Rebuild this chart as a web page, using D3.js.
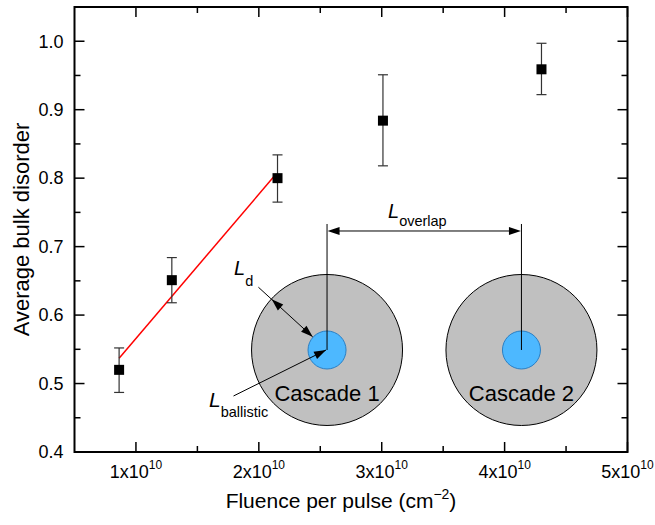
<!DOCTYPE html>
<html>
<head>
  <meta charset="utf-8">
  <script src="https://d3js.org/d3.v7.min.js"></script>
  <style>
    body { margin: 0; background: #fff; }
    text { font-family: Arial, "Liberation Sans", sans-serif; fill: #000; }
  </style>
</head>
<body>
  <svg id="chart" width="655" height="525"></svg>
  <script>
    // measured points (fluence in cm^-2)
    const fluence = [0.863e10, 1.292e10, 2.152e10, 3.01e10, 4.30e10];
    const disorder = [0.520, 0.651, 0.800, 0.884, 0.959];
    const errLow = [0.487, 0.618, 0.765, 0.818, 0.922];
    const errHigh = [0.552, 0.684, 0.834, 0.951, 0.997];

    // linear fit over the first three points
    const fitX = [0.863e10, 2.14e10];
    const fitY = [0.537, 0.806];

    // tick values
    const xMajor = [1e10, 2e10, 3e10, 4e10, 5e10];
    const xMinor = [1.5e10, 2.5e10, 3.5e10, 4.5e10];
    const xTickLabels = ["1", "2", "3", "4", "5"];
    const yMajor = [0.4, 0.5, 0.6, 0.7, 0.8, 0.9, 1.0];
    const yMinor = [0.45, 0.55, 0.65, 0.75, 0.85, 0.95];

    // schematic cascades, centres in data units
    const cascadeNames = ["Cascade 1", "Cascade 2"];
    const cascadeX = [2.555e10, 4.137e10];
    const cascadeY = 0.549;

    const svg = d3.select("#chart");
    const pLeft = 74.5, pRight = 627.5, pTop = 7, pBottom = 452;

    const x = d3.scaleLinear().domain([0.5e10, 5e10]).range([pLeft, pRight]);
    const y = d3.scaleLinear().domain([0.4, 1.05]).range([pBottom, pTop]);

    // y tick labels
    svg.append("g").selectAll("text")
      .data(yMajor)
      .enter()
      .append("text")
      .attr("x", pLeft - 11)
      .attr("y", d => y(d))
      .attr("dy", "0.35em")
      .attr("text-anchor", "end")
      .style("font-size", "18px")
      .text(d3.format(".1f"));

    // x tick labels like 1x10^10
    const xl = svg.append("g").selectAll("text")
      .data(xMajor)
      .enter()
      .append("text")
      .attr("x", d => x(d))
      .attr("y", 478)
      .attr("text-anchor", "middle")
      .style("font-size", "18px");
    xl.append("tspan").text((d, i) => xTickLabels[i] + "x10");
    xl.append("tspan").attr("dy", -9).style("font-size", "12px").text("10");

    // axis titles
    svg.append("text")
      .attr("transform", "translate(29," + ((pTop + pBottom) / 2) + ") rotate(-90)")
      .attr("text-anchor", "middle")
      .style("font-size", "22px")
      .text("Average bulk disorder");

    const xt = svg.append("text")
      .attr("x", 341).attr("y", 508)
      .attr("text-anchor", "middle")
      .style("font-size", "21px");
    xt.append("tspan").text("Fluence per pulse (cm");
    xt.append("tspan").attr("dy", -9).style("font-size", "14px").text("\u22122");
    xt.append("tspan").attr("dy", 9).text(")");

    // ---- schematic
    const sch = svg.append("g");
    const outerR = 75.5, innerR = 19;
    const cy = y(cascadeY);
    const c1x = x(cascadeX[0]), c2x = x(cascadeX[1]);

    // filled triangle with its tip at (tx, ty), pointing along (dx, dy)
    function head(tx, ty, dx, dy) {
      const n = Math.hypot(dx, dy), ax = dx / n, ay = dy / n;
      const bx = tx - ax * 12, by = ty - ay * 12;
      sch.append("path")
        .attr("d", "M" + tx + "," + ty +
          "L" + (bx - ay * 4) + "," + (by + ax * 4) +
          "L" + (bx + ay * 4) + "," + (by - ax * 4) + "Z")
        .attr("fill", "#000");
    }

    sch.selectAll(null)
      .data(cascadeX)
      .enter()
      .append("circle")
      .attr("cx", d => x(d)).attr("cy", cy)
      .attr("r", outerR)
      .attr("fill", "#c0c0c0").attr("stroke", "#000").attr("stroke-width", 1);

    sch.selectAll(null)
      .data(cascadeX)
      .enter()
      .append("circle")
      .attr("cx", d => x(d)).attr("cy", cy)
      .attr("r", innerR)
      .attr("fill", "#4db8ff").attr("stroke", "#2a7fc4").attr("stroke-width", 1);

    sch.selectAll(null)
      .data(cascadeX)
      .enter()
      .append("text")
      .attr("x", d => x(d)).attr("y", cy + 51)
      .attr("text-anchor", "middle")
      .style("font-size", "22px")
      .text((d, i) => cascadeNames[i]);

    // vertical centre lines
    sch.selectAll(null)
      .data(cascadeX)
      .enter()
      .append("line")
      .attr("x1", d => x(d)).attr("x2", d => x(d))
      .attr("y1", cy).attr("y2", cy - 126)
      .attr("stroke", "#000").attr("stroke-width", 1);

    // L_overlap arrow
    sch.append("line")
      .attr("x1", c1x + 6).attr("x2", c2x - 6)
      .attr("y1", cy - 119).attr("y2", cy - 119)
      .attr("stroke", "#000").attr("stroke-width", 1);
    head(c1x + 0.5, cy - 119, -1, 0);
    head(c2x - 0.5, cy - 119, 1, 0);
    const lo = sch.append("text")
      .attr("x", 388).attr("y", cy - 132);
    lo.append("tspan").style("font-size", "20px").style("font-style", "italic").text("L");
    lo.append("tspan").attr("dy", 8).style("font-size", "14.5px").text("overlap");

    // L_d arrow
    const ux = -0.738, uy = -0.675;
    sch.append("line")
      .attr("x1", c1x + ux * 93).attr("y1", cy + uy * 93)
      .attr("x2", c1x + ux * 19.5).attr("y2", cy + uy * 19.5)
      .attr("stroke", "#000").attr("stroke-width", 1);
    head(c1x + ux * 75, cy + uy * 75, ux, uy);
    head(c1x + ux * 19.5, cy + uy * 19.5, -ux, -uy);
    const ld = sch.append("text")
      .attr("x", 234).attr("y", 275);
    ld.append("tspan").style("font-size", "20px").style("font-style", "italic").text("L");
    ld.append("tspan").attr("dy", 11).style("font-size", "14.5px").text("d");

    // L_ballistic arrow
    sch.append("line")
      .attr("x1", 233.5).attr("y1", cy + 46)
      .attr("x2", c1x - 1).attr("y2", cy)
      .attr("stroke", "#000").attr("stroke-width", 1);
    head(c1x - 1, cy, c1x - 1 - 233.5, -46);
    const lb = sch.append("text")
      .attr("x", 209).attr("y", 406.5);
    lb.append("tspan").style("font-size", "21px").style("font-style", "italic").text("L");
    lb.append("tspan").attr("dy", 10).style("font-size", "14.5px").text("ballistic");

    // ---- data
    svg.append("line")
      .attr("x1", x(fitX[0])).attr("y1", y(fitY[0]))
      .attr("x2", x(fitX[1])).attr("y2", y(fitY[1]))
      .attr("stroke", "#ff0000").attr("stroke-width", 1.5);

    const pts = d3.range(fluence.length);
    const eb = svg.append("g").attr("stroke", "#333").attr("stroke-width", 1.2);
    eb.selectAll(null).data(pts).enter().append("line")
      .attr("x1", i => x(fluence[i])).attr("x2", i => x(fluence[i]))
      .attr("y1", i => y(errLow[i])).attr("y2", i => y(errHigh[i]));
    eb.selectAll(null).data(pts).enter().append("line")
      .attr("x1", i => x(fluence[i]) - 5).attr("x2", i => x(fluence[i]) + 5)
      .attr("y1", i => y(errHigh[i])).attr("y2", i => y(errHigh[i]));
    eb.selectAll(null).data(pts).enter().append("line")
      .attr("x1", i => x(fluence[i]) - 5).attr("x2", i => x(fluence[i]) + 5)
      .attr("y1", i => y(errLow[i])).attr("y2", i => y(errLow[i]));

    svg.append("g").selectAll(null).data(pts).enter().append("rect")
      .attr("x", i => x(fluence[i]) - 5)
      .attr("y", i => y(disorder[i]) - 5)
      .attr("width", 10).attr("height", 10)
      .attr("fill", "#000");

    // ---- frame and inward ticks on all four sides, drawn last
    const tk = svg.append("g").attr("stroke", "black").attr("stroke-width", 1.5);
    function xTicks(vals, len) {
      tk.selectAll(null).data(vals).enter().append("line")
        .attr("x1", d => x(d)).attr("x2", d => x(d))
        .attr("y1", pBottom).attr("y2", pBottom - len);
      tk.selectAll(null).data(vals).enter().append("line")
        .attr("x1", d => x(d)).attr("x2", d => x(d))
        .attr("y1", pTop).attr("y2", pTop + len);
    }
    function yTicks(vals, len) {
      tk.selectAll(null).data(vals).enter().append("line")
        .attr("y1", d => y(d)).attr("y2", d => y(d))
        .attr("x1", pLeft).attr("x2", pLeft + len);
      tk.selectAll(null).data(vals).enter().append("line")
        .attr("y1", d => y(d)).attr("y2", d => y(d))
        .attr("x1", pRight).attr("x2", pRight - len);
    }
    xTicks(xMajor, 10);
    xTicks(xMinor, 6);
    yTicks(yMajor, 10);
    yTicks(yMinor, 6);

    svg.append("path")
      .attr("d", "M" + pLeft + "," + pTop + "H" + pRight + "V" + pBottom + "H" + pLeft + "Z")
      .attr("fill", "none").attr("stroke", "black").attr("stroke-width", 2);
  </script>
</body>
</html>
